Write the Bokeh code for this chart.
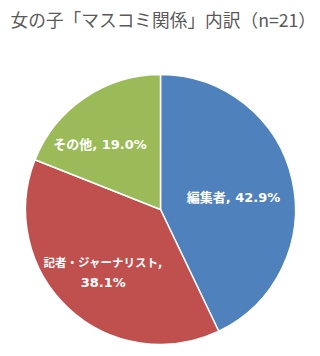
import math
from bokeh.plotting import figure
from bokeh.models import Range1d, ColumnDataSource
from bokeh.core.properties import value
from bokeh.embed import file_html
from bokeh.resources import INLINE

title = "女の子「マスコミ関係」内訳（n=21）"
categories = ["編集者", "記者・ジャーナリスト", "その他"]
percents = [42.9, 38.1, 19.0]
label_lines = [["編集者, 42.9%"], ["記者・ジャーナリスト,", "38.1%"], ["その他, 19.0%"]]
colors = ["#4F81BD", "#C0504D", "#9BBB59"]

W, H = 320, 356
cx, cy, r = 160, H - 209, 135

p = figure(width=W, height=H, output_backend="svg", toolbar_location=None,
           x_range=Range1d(0, W), y_range=Range1d(0, H), min_border=0)
p.axis.visible = False
p.grid.visible = False
p.outline_line_color = None
p.background_fill_color = "white"
p.border_fill_color = "white"

total = sum(percents)
starts, ends = [], []
cum = 0.0
for v in percents:
    starts.append(math.pi / 2 - 2 * math.pi * cum / total)
    cum += v
    ends.append(math.pi / 2 - 2 * math.pi * cum / total)

src = ColumnDataSource(dict(start=starts, end=ends, color=colors, cat=categories))
p.wedge(x=cx, y=cy, radius=r, start_angle="start", end_angle="end", direction="clock",
        fill_color="color", line_color="white", line_width=1.5, source=src)

# label placement
nudges = [(-6, -6), (-2, -4), (-15, -2)]
line_gap = 20
tx, ty, tt, ts = [], [], [], []
for i, v in enumerate(percents):
    mid = (starts[i] + ends[i]) / 2
    lx = cx + 0.6 * r * math.cos(mid) + nudges[i][0]
    ly = cy + 0.6 * r * math.sin(mid) + nudges[i][1]
    n = len(label_lines[i])
    for j, s in enumerate(label_lines[i]):
        tx.append(lx)
        ty.append(ly + (n - 1) * line_gap / 2 - j * line_gap)
        tt.append(s)
        ts.append("11.5px" if (n > 1 and j == 0) else "13px")
lsrc = ColumnDataSource(dict(x=tx, y=ty, text=tt, size=ts))
p.text(x="x", y="y", text="text", text_font_size="size", source=lsrc,
       text_color="white", text_font=value("DejaVu Sans, Noto Sans CJK JP"),
       text_font_style="bold", text_align="center", text_baseline="middle")

p.text(x=[10], y=[H - 18], text=[title], text_color="#595959",
       text_font=value("Noto Sans CJK JP"), text_font_size="17.7px",
       text_align="left", text_baseline="middle")

open("out.html", "w").write(file_html(p, INLINE))
